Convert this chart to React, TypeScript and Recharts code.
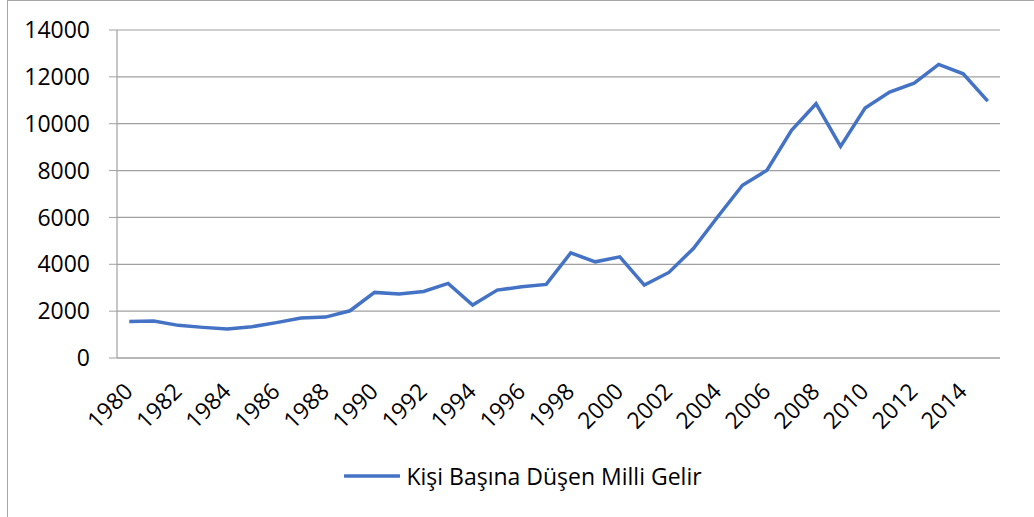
import React from 'react';
import { LineChart, Line, XAxis, YAxis, CartesianGrid, Legend } from 'recharts';

const years: number[] = [
  1980, 1981, 1982, 1983, 1984, 1985, 1986, 1987, 1988, 1989,
  1990, 1991, 1992, 1993, 1994, 1995, 1996, 1997, 1998, 1999,
  2000, 2001, 2002, 2003, 2004, 2005, 2006, 2007, 2008, 2009,
  2010, 2011, 2012, 2013, 2014, 2015,
];

const income: number[] = [
  1560, 1577, 1393, 1307, 1240, 1335, 1510, 1705, 1747, 2016,
  2800, 2728, 2840, 3183, 2259, 2898, 3039, 3140, 4488, 4105,
  4318, 3111, 3652, 4675, 6040, 7373, 8013, 9717, 10854, 9035,
  10669, 11350, 11734, 12530, 12133, 10965,
];

const yTicks: number[] = [0, 2000, 4000, 6000, 8000, 10000, 12000, 14000];
const yearLabels: number[] = [
  1980, 1982, 1984, 1986, 1988, 1990, 1992, 1994, 1996, 1998,
  2000, 2002, 2004, 2006, 2008, 2010, 2012, 2014,
];
const seriesName = 'Kişi Başına Düşen Milli Gelir';

const data = years.map((year, i) => ({ year, value: income[i] }));
const boundaries = [...years.map((y) => y - 0.5), years[years.length - 1] + 0.5];
const xDomain: [number, number] = [boundaries[0], boundaries[boundaries.length - 1]];

const FONT = '"Open Sans", sans-serif';
const LINE_COLOR = '#4472C4';
const GRID = '#a0a0a0';

const YearTick = (props: any) => {
  const { x, y, payload } = props;
  const px = x + 5;
  const py = y + 34;
  return (
    <text
      x={px}
      y={py}
      textAnchor="end"
      transform={`rotate(-45, ${px}, ${py})`}
      fontFamily={FONT}
      fontSize={23}
      fill="#000"
    >
      {payload.value}
    </text>
  );
};

const LegendContent = () => (
  <div
    style={{
      display: 'flex',
      alignItems: 'center',
      justifyContent: 'center',
      height: 30,
      fontFamily: FONT,
      fontSize: 23,
      color: '#000',
      whiteSpace: 'nowrap',
    }}
  >
    <svg width={56} height={6} style={{ marginRight: 6 }}>
      <line x1={1} y1={3} x2={55} y2={3} stroke={LINE_COLOR} strokeWidth={3.5} strokeLinecap="round" />
    </svg>
    <span>{seriesName}</span>
  </div>
);

export default function App() {
  return (
    <div
      style={{
        position: 'fixed',
        left: 0,
        top: 0,
        width: 1034,
        height: 517,
        overflow: 'hidden',
        background: '#fff',
      }}
    >
      <div
        style={{
          position: 'absolute',
          left: 7,
          top: 0,
          width: 1060,
          height: 560,
          border: '1.5px solid #a6a6a6',
          boxSizing: 'border-box',
        }}
      />
      <div style={{ position: 'absolute', left: 0, top: 0 }}>
        <LineChart
          width={1034}
          height={517}
          data={data}
          margin={{ top: 30, right: 34, bottom: 26, left: 17 }}
        >
          <CartesianGrid vertical={false} stroke={GRID} strokeWidth={1.2} />
          <XAxis
            xAxisId="bounds"
            dataKey="year"
            type="number"
            domain={xDomain}
            ticks={boundaries}
            tick={false}
            tickSize={8}
            height={1}
            stroke={GRID}
            axisLine={{ stroke: GRID, strokeWidth: 1.2 }}
            tickLine={{ stroke: GRID }}
          />
          <XAxis
            xAxisId="labels"
            dataKey="year"
            type="number"
            domain={xDomain}
            ticks={yearLabels}
            tick={<YearTick />}
            tickLine={false}
            axisLine={false}
            tickSize={0}
            tickMargin={0}
            height={102}
            interval={0}
          />
          <YAxis
            type="number"
            domain={[0, 14000]}
            ticks={yTicks}
            width={100}
            tickSize={8}
            tickMargin={19}
            interval={0}
            stroke={GRID}
            axisLine={{ stroke: GRID, strokeWidth: 1.2 }}
            tickLine={{ stroke: GRID }}
            tick={{ fill: '#000', fontFamily: FONT, fontSize: 23 }}
          />
          <Legend
            verticalAlign="bottom"
            content={<LegendContent />}
            wrapperStyle={{ left: 0, width: 1046 }}
          />
          <Line
            xAxisId="bounds"
            type="linear"
            dataKey="value"
            name={seriesName}
            stroke={LINE_COLOR}
            strokeWidth={3.5}
            dot={false}
            activeDot={false}
            isAnimationActive={false}
          />
        </LineChart>
      </div>
    </div>
  );
}
